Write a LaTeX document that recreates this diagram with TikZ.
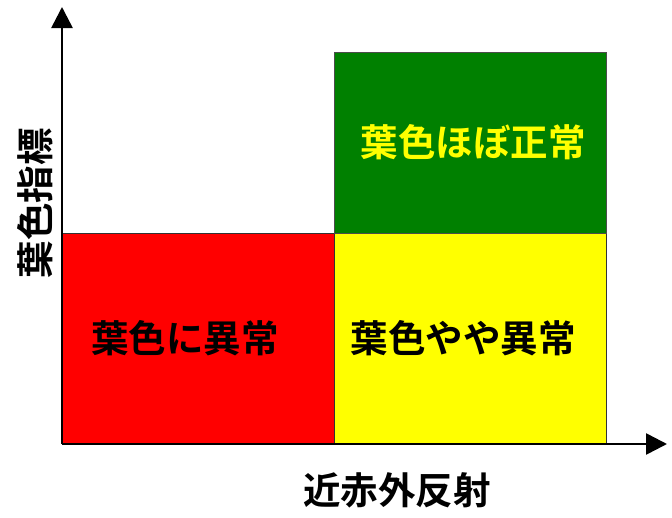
\documentclass[tikz,border=0pt]{standalone}
\usepackage{fontspec}
\newfontfamily\cjk{Noto Sans CJK JP}[BoldFont=Noto Sans CJK JP Bold]
\usetikzlibrary{arrows.meta}
\begin{document}
\begin{tikzpicture}[x=1pt,y=-1pt,
  zone/.style={draw=black!80,line width=0.8pt},
  lbl/.style={font=\cjk\bfseries\fontsize{37.5}{37.5}\selectfont,inner sep=0pt},
  axis/.style={line width=2.6pt,-{Triangle[length=21pt,width=21pt]}}]
\useasboundingbox (0,0) rectangle (672,517);
\fill[white] (0,0) rectangle (672,517);
\node[zone,fill={rgb,255:red,255;green,0;blue,0},minimum width=272pt,minimum height=211pt,inner sep=0pt,anchor=north west] (red) at (62,233) {};
\node[zone,fill={rgb,255:red,255;green,255;blue,0},minimum width=272pt,minimum height=211pt,inner sep=0pt,anchor=north west] (yel) at (334,233) {};
\node[zone,draw=black!70,fill={rgb,255:red,0;green,128;blue,0},minimum width=272pt,minimum height=181pt,inner sep=0pt,anchor=north west] (grn) at (334,52) {};
\coordinate (o) at (62,444);
\coordinate (ytip) at (62,7);
\coordinate (xtip) at (667,444);
\draw[axis] (o) -- (ytip);
\draw[axis] (o) -- (xtip);
\node[lbl] (t1) at (185,338) {葉色に異常};
\node[lbl] (t2) at (463,338) {葉色やや異常};
\node[lbl,text={rgb,255:red,255;green,255;blue,0}] (t3) at (473,142) {葉色ほぼ正常};
\node[lbl] (xl) at (397,490) {近赤外反射};
\node[lbl,rotate=90] (yl) at (35,203) {葉色指標};
\end{tikzpicture}
\end{document}
